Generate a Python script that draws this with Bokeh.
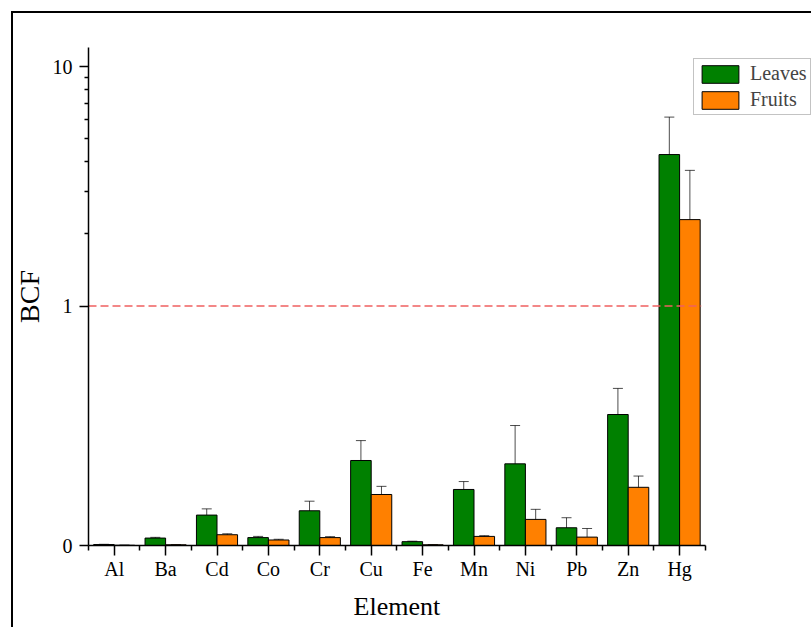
import math
from bokeh.plotting import figure
from bokeh.models import (ColumnDataSource, FixedTicker, Whisker, TeeHead, Title,
                          Legend, LegendItem, Range1d, InlineStyleSheet)
from bokeh.embed import file_html
from bokeh.resources import INLINE

# ---- data ----
elements = ["Al", "Ba", "Cd", "Co", "Cr", "Cu", "Fe", "Mn", "Ni", "Pb", "Zn", "Hg"]
leaves = [0.004, 0.031, 0.127, 0.033, 0.145, 0.355, 0.016, 0.234, 0.341, 0.074, 0.547, 4.29]
leaves_err = [0.001, 0.003, 0.026, 0.005, 0.040, 0.083, 0.002, 0.033, 0.160, 0.042, 0.109, 1.86]
fruits = [0.001, 0.003, 0.045, 0.023, 0.033, 0.213, 0.003, 0.038, 0.109, 0.035, 0.243, 2.295]
fruits_err = [0.0005, 0.001, 0.004, 0.003, 0.004, 0.034, 0.001, 0.003, 0.042, 0.036, 0.047, 1.39]
y_tick_values = [0, 1, 10]
y_tick_labels = ["0", "1", "10"]
y_minor_values = [2, 3, 4, 5, 6, 7, 8, 9]
threshold = 1.0
x_title = "Element"
y_title = "BCF"

FONT = "Liberation Serif"


def bcf_scale(v):
    """Linear segment 0..1, log10 segment above 1 (as in the reference axis)."""
    if v <= 1:
        return v
    return 1.0 + math.log10(v)


idx = list(range(len(elements)))
bar_w = 0.4
x_lo, x_hi = -0.5, len(elements) - 0.5
px_per_cat = 51.4


def make_src(vals, errs, offset):
    return ColumnDataSource(dict(
        x=[i + offset for i in idx],
        top=[bcf_scale(v) for v in vals],
        upper=[bcf_scale(v + e) for v, e in zip(vals, errs)],
        lower=[bcf_scale(max(0.0, v - e)) for v, e in zip(vals, errs)],
    ))


src_l = make_src(leaves, leaves_err, -bar_w / 2)
src_f = make_src(fruits, fruits_err, bar_w / 2)

# frame: left 88, top 47, bottom 545, extends to the right edge (axis bounded)
p = figure(width=811, height=627, output_backend="svg", toolbar_location=None,
           x_range=Range1d(x_lo, x_lo + 723 / px_per_cat), y_range=Range1d(0, 2.0795),
           min_border_left=88, min_border_right=0, min_border_top=47, min_border_bottom=82)
p.outline_line_color = None
p.grid.visible = False
p.background_fill_color = "white"
p.border_fill_color = "white"

r_l = p.vbar(x="x", top="top", width=bar_w, bottom=0, source=src_l,
             fill_color="#008000", line_color="black", line_width=1)
r_f = p.vbar(x="x", top="top", width=bar_w, bottom=0, source=src_f,
             fill_color="#ff8000", line_color="black", line_width=1)

for src in (src_l, src_f):
    w = Whisker(base="x", upper="upper", lower="lower", source=src, dimension="height",
                line_color="black", line_alpha=0.7, line_width=1,
                upper_head=TeeHead(size=10, line_color="black", line_alpha=0.7, line_width=1),
                lower_head=TeeHead(size=10, line_color="black", line_alpha=0.7, line_width=1))
    p.add_layout(w)

# threshold line at BCF = 1
p.segment(x0=[x_lo], x1=[x_hi - 0.08], y0=[bcf_scale(threshold)], y1=[bcf_scale(threshold)],
          line_color="#f06060", line_dash="8 4", line_width=1.5)

# axes
p.xaxis.ticker = FixedTicker(ticks=idx, minor_ticks=[i - 0.5 for i in range(len(elements) + 1)])
p.xaxis.major_label_overrides = {i: e for i, e in zip(idx, elements)}
p.xaxis.bounds = (x_lo, x_hi)
p.yaxis.ticker = FixedTicker(ticks=[bcf_scale(v) for v in y_tick_values],
                             minor_ticks=[bcf_scale(v) for v in y_minor_values])
p.yaxis.major_label_overrides = {bcf_scale(v): t for v, t in zip(y_tick_values, y_tick_labels)}

for ax in (p.xaxis[0], p.yaxis[0]):
    ax.axis_line_width = 1.5
    ax.major_tick_line_width = 1.5
    ax.minor_tick_line_width = 1.5
    ax.major_tick_in = 0
    ax.minor_tick_in = 0
    ax.major_label_text_font = FONT
    ax.major_label_text_font_size = "20px"
    ax.major_label_text_color = "black"
    ax.axis_label_text_font = FONT
    ax.axis_label_text_font_style = "normal"
    ax.axis_label_text_color = "black"

p.xaxis.major_tick_out = 10
p.xaxis.minor_tick_out = 5
p.xaxis.major_label_standoff = 2

p.yaxis.major_tick_out = 9
p.yaxis.minor_tick_out = 4
p.yaxis.major_label_standoff = 7
p.yaxis.axis_label = y_title
p.yaxis.axis_label_text_font_size = "28px"
p.yaxis.axis_label_standoff = 5

# x-axis title centred under the bounded axis (not the whole frame)
title_w = 3.333 * 26
x_center_px = (x_hi - x_lo) / 2 * px_per_cat
p.add_layout(Title(text=x_title, align="left", offset=x_center_px - title_w / 2,
                   text_font=FONT, text_font_size="26px", text_font_style="normal",
                   text_color="black", standoff=14), "below")

legend = Legend(items=[LegendItem(label="Leaves", renderers=[r_l]),
                       LegendItem(label="Fruits", renderers=[r_f])],
                location=(605, 430), orientation="vertical",
                label_text_font=FONT, label_text_font_size="20px",
                glyph_width=46, glyph_height=22, label_standoff=7,
                padding=3, spacing=3, margin=0,
                border_line_color="#888888", border_line_width=1.5,
                background_fill_color="white", background_fill_alpha=1)
p.add_layout(legend)

# outer page border (left and top edges visible, as in the reference)
p.stylesheets = [InlineStyleSheet(css="""
:host { position: relative; }
:host::after {
  content: ''; position: absolute; left: 11px; top: 11px; right: 0; bottom: 0;
  border-left: 2px solid black; border-top: 2px solid black;
  pointer-events: none; z-index: 100;
}
""")]

open("out.html", "w").write(file_html(p, INLINE))
